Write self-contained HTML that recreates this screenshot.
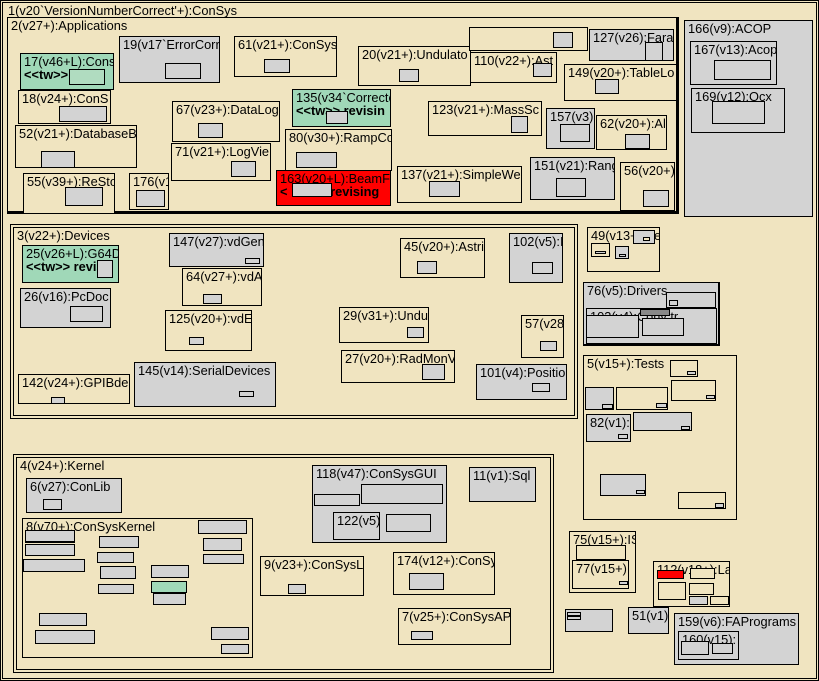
<!DOCTYPE html>
<html><head><meta charset="utf-8"><style>
body{margin:0;width:819px;height:681px;background:#f0e4c0;position:relative;overflow:hidden}
.b{position:absolute;border:1px solid #000;overflow:hidden;white-space:nowrap;box-sizing:border-box;font:12.8px "Liberation Sans",sans-serif;line-height:13px;padding:1px 0 0 3px;color:#000}
.g{background:#d3d3d3}.n{background:#f0e4c0}.t{background:#a0d8b8}.r{background:#f00}
.k{font-weight:bold}
</style></head><body>
<div class="b n" style="left:0;top:0;width:819px;height:681px"></div>
<div class="b n" style="left:2px;top:2px;width:815px;height:677px;padding-left:5px">1(v20`VersionNumberCorrect'+):ConSys</div>

<div class="b n" style="left:7px;top:17px;width:672px;height:197px;border-right-width:3px;border-bottom-width:3px">2(v27+):Applications</div>
<div class="b t" style="left:20px;top:53px;width:94px;height:37px">17(v46+L):Cons<br><span class="k">&lt;&lt;tw&gt;&gt; revisi</span></div>
<div class="b t" style="left:69px;top:69px;width:36px;height:16px;background:#b0dcc0"></div>
<div class="b g" style="left:119px;top:36px;width:101px;height:47px">19(v17`ErrorCorr</div>
<div class="b g" style="left:165px;top:63px;width:36px;height:16px"></div>
<div class="b n" style="left:234px;top:36px;width:103px;height:41px">61(v21+):ConSys</div>
<div class="b g" style="left:264px;top:59px;width:26px;height:14px"></div>
<div class="b n" style="left:358px;top:46px;width:113px;height:40px">20(v21+):Undulato</div>
<div class="b g" style="left:399px;top:69px;width:20px;height:13px"></div>
<div class="b n" style="left:18px;top:90px;width:93px;height:34px">18(v24+):ConS</div>
<div class="b g" style="left:59px;top:106px;width:48px;height:16px"></div>
<div class="b n" style="left:172px;top:101px;width:108px;height:41px">67(v23+):DataLog</div>
<div class="b g" style="left:198px;top:123px;width:25px;height:15px"></div>
<div class="b t" style="left:292px;top:89px;width:99px;height:38px">135(v34`Correcte<br><span class="k">&lt;&lt;tw&gt;&gt; revisin</span></div>
<div class="b g" style="left:326px;top:111px;width:22px;height:13px"></div>
<div class="b n" style="left:15px;top:125px;width:122px;height:43px">52(v21+):DatabaseB</div>
<div class="b g" style="left:41px;top:151px;width:34px;height:17px"></div>
<div class="b n" style="left:171px;top:143px;width:100px;height:38px">71(v21+):LogVie</div>
<div class="b g" style="left:231px;top:161px;width:25px;height:16px"></div>
<div class="b n" style="left:285px;top:129px;width:107px;height:42px">80(v30+):RampCo</div>
<div class="b g" style="left:296px;top:152px;width:41px;height:16px"></div>
<div class="b n" style="left:23px;top:173px;width:92px;height:41px">55(v39+):ReSto</div>
<div class="b g" style="left:65px;top:187px;width:38px;height:19px"></div>
<div class="b n" style="left:129px;top:173px;width:40px;height:37px">176(v1</div>
<div class="b g" style="left:136px;top:190px;width:29px;height:17px"></div>
<div class="b r" style="left:276px;top:170px;width:115px;height:36px">163(v20+L):BeamF<br><span class="k">&lt;&nbsp;&nbsp;&nbsp;&nbsp;&nbsp;&nbsp;&nbsp;&nbsp;&nbsp;&nbsp;&nbsp; revising</span></div>
<div class="b g" style="left:292px;top:183px;width:40px;height:14px"></div>
<div class="b n" style="left:397px;top:166px;width:125px;height:37px">137(v21+):SimpleWe</div>
<div class="b g" style="left:429px;top:181px;width:31px;height:16px"></div>
<div class="b n" style="left:469px;top:27px;width:119px;height:24px"></div>
<div class="b g" style="left:553px;top:32px;width:20px;height:16px"></div>
<div class="b g" style="left:589px;top:29px;width:85px;height:32px">127(v26):Fara</div>
<div class="b g" style="left:645px;top:42px;width:18px;height:19px"></div>
<div class="b n" style="left:470px;top:52px;width:87px;height:31px">110(v22+):Ast</div>
<div class="b g" style="left:533px;top:63px;width:19px;height:14px"></div>
<div class="b n" style="left:564px;top:64px;width:113px;height:37px">149(v20+):TableLo</div>
<div class="b g" style="left:595px;top:79px;width:24px;height:15px"></div>
<div class="b n" style="left:428px;top:101px;width:114px;height:35px">123(v21+):MassSc</div>
<div class="b g" style="left:511px;top:116px;width:17px;height:17px"></div>
<div class="b g" style="left:546px;top:108px;width:49px;height:41px">157(v3)</div>
<div class="b g" style="left:560px;top:124px;width:30px;height:18px"></div>
<div class="b n" style="left:596px;top:115px;width:71px;height:35px">62(v20+):Al</div>
<div class="b g" style="left:625px;top:134px;width:25px;height:15px"></div>
<div class="b g" style="left:530px;top:157px;width:85px;height:43px">151(v21):Rang</div>
<div class="b g" style="left:556px;top:178px;width:30px;height:19px"></div>
<div class="b n" style="left:620px;top:162px;width:55px;height:49px">56(v20+)</div>
<div class="b g" style="left:643px;top:190px;width:26px;height:17px"></div>

<div class="b g" style="left:684px;top:20px;width:129px;height:197px">166(v9):ACOP</div>
<div class="b g" style="left:690px;top:41px;width:87px;height:44px">167(v13):Acop</div>
<div class="b g" style="left:714px;top:60px;width:57px;height:20px"></div>
<div class="b g" style="left:691px;top:88px;width:94px;height:45px">169(v12):Ocx</div>
<div class="b g" style="left:712px;top:101px;width:53px;height:23px"></div>

<div class="b n" style="left:10px;top:224px;width:568px;height:195px"></div>
<div class="b n" style="left:13px;top:227px;width:562px;height:189px">3(v22+):Devices</div>
<div class="b t" style="left:22px;top:245px;width:97px;height:38px">25(v26+L):G64D<br><span class="k">&lt;&lt;tw&gt;&gt; revisi</span></div>
<div class="b g" style="left:97px;top:260px;width:16px;height:18px"></div>
<div class="b g" style="left:20px;top:288px;width:91px;height:40px">26(v16):PcDoc</div>
<div class="b g" style="left:70px;top:306px;width:33px;height:16px"></div>
<div class="b g" style="left:169px;top:233px;width:95px;height:34px">147(v27):vdGen</div>
<div class="b g" style="left:245px;top:258px;width:15px;height:6px"></div>
<div class="b n" style="left:182px;top:268px;width:80px;height:38px">64(v27+):vdA</div>
<div class="b g" style="left:203px;top:294px;width:19px;height:10px"></div>
<div class="b n" style="left:165px;top:310px;width:87px;height:41px">125(v20+):vdE</div>
<div class="b g" style="left:189px;top:337px;width:15px;height:8px"></div>
<div class="b g" style="left:134px;top:362px;width:142px;height:45px">145(v14):SerialDevices</div>
<div class="b g" style="left:239px;top:391px;width:15px;height:6px"></div>
<div class="b n" style="left:18px;top:374px;width:112px;height:30px">142(v24+):GPIBde</div>
<div class="b g" style="left:51px;top:397px;width:14px;height:7px"></div>
<div class="b n" style="left:400px;top:238px;width:85px;height:40px">45(v20+):Astri</div>
<div class="b g" style="left:417px;top:261px;width:20px;height:13px"></div>
<div class="b g" style="left:509px;top:233px;width:54px;height:50px">102(v5):I</div>
<div class="b g" style="left:532px;top:262px;width:21px;height:12px"></div>
<div class="b n" style="left:339px;top:307px;width:90px;height:36px">29(v31+):Undu</div>
<div class="b g" style="left:407px;top:327px;width:17px;height:11px"></div>
<div class="b n" style="left:341px;top:350px;width:114px;height:33px">27(v20+):RadMonV</div>
<div class="b g" style="left:422px;top:364px;width:23px;height:16px"></div>
<div class="b n" style="left:521px;top:315px;width:43px;height:43px">57(v28</div>
<div class="b g" style="left:540px;top:341px;width:17px;height:10px"></div>
<div class="b g" style="left:476px;top:364px;width:91px;height:36px">101(v4):Positio</div>
<div class="b g" style="left:532px;top:383px;width:18px;height:9px"></div>

<div class="b n" style="left:587px;top:227px;width:73px;height:45px">49(v13+):Se</div>
<div class="b g" style="left:633px;top:230px;width:22px;height:14px"></div>
<div class="b n" style="left:643px;top:237px;width:7px;height:4px"></div>
<div class="b n" style="left:591px;top:243px;width:19px;height:14px"></div>
<div class="b g" style="left:595px;top:251px;width:11px;height:3px"></div>
<div class="b g" style="left:615px;top:246px;width:14px;height:13px"></div>
<div class="b g" style="left:619px;top:254px;width:7px;height:3px"></div>

<div class="b g" style="left:583px;top:282px;width:137px;height:64px;border-width:1px 2px 2px 1px">76(v5):Drivers</div>
<div class="b g" style="left:666px;top:292px;width:50px;height:16px"></div>
<div class="b g" style="left:669px;top:300px;width:9px;height:6px"></div>
<div class="b g" style="left:586px;top:308px;width:131px;height:36px">103(v4):Conv tr</div>
<div class="b g" style="left:586px;top:315px;width:53px;height:23px"></div>
<div class="b g" style="left:642px;top:318px;width:42px;height:18px"></div>
<div class="b g" style="left:640px;top:309px;width:30px;height:7px;background:#888"></div>

<div class="b n" style="left:583px;top:355px;width:154px;height:165px">5(v15+):Tests</div>
<div class="b n" style="left:670px;top:360px;width:28px;height:17px"></div>
<div class="b g" style="left:687px;top:371px;width:9px;height:4px"></div>
<div class="b n" style="left:671px;top:380px;width:45px;height:21px"></div>
<div class="b g" style="left:706px;top:395px;width:9px;height:4px"></div>
<div class="b g" style="left:585px;top:387px;width:29px;height:23px"></div>
<div class="b g" style="left:602px;top:404px;width:11px;height:5px"></div>
<div class="b n" style="left:616px;top:387px;width:52px;height:23px"></div>
<div class="b g" style="left:656px;top:403px;width:11px;height:5px"></div>
<div class="b g" style="left:586px;top:414px;width:45px;height:28px">82(v1):</div>
<div class="b g" style="left:618px;top:434px;width:10px;height:5px"></div>
<div class="b g" style="left:633px;top:412px;width:59px;height:19px"></div>
<div class="b g" style="left:681px;top:426px;width:9px;height:4px"></div>
<div class="b g" style="left:600px;top:474px;width:46px;height:22px"></div>
<div class="b g" style="left:636px;top:490px;width:9px;height:4px"></div>
<div class="b n" style="left:678px;top:492px;width:48px;height:17px"></div>
<div class="b g" style="left:715px;top:503px;width:9px;height:5px"></div>

<div class="b n" style="left:13px;top:454px;width:541px;height:219px"></div>
<div class="b n" style="left:16px;top:457px;width:535px;height:213px">4(v24+):Kernel</div>
<div class="b g" style="left:26px;top:478px;width:96px;height:35px">6(v27):ConLib</div>
<div class="b g" style="left:43px;top:499px;width:19px;height:11px"></div>
<div class="b n" style="left:22px;top:518px;width:231px;height:140px">8(v70+):ConSysKernel</div>
<div class="b g" style="left:25px;top:530px;width:50px;height:13px;border-bottom-width:2px"></div>
<div class="b g" style="left:25px;top:544px;width:50px;height:12px"></div>
<div class="b g" style="left:23px;top:559px;width:62px;height:13px"></div>
<div class="b g" style="left:99px;top:536px;width:40px;height:12px"></div>
<div class="b g" style="left:97px;top:552px;width:37px;height:11px"></div>
<div class="b g" style="left:100px;top:566px;width:36px;height:13px"></div>
<div class="b g" style="left:98px;top:584px;width:36px;height:10px"></div>
<div class="b g" style="left:151px;top:565px;width:38px;height:13px"></div>
<div class="b t" style="left:151px;top:581px;width:36px;height:12px"></div>
<div class="b g" style="left:153px;top:593px;width:33px;height:12px"></div>
<div class="b g" style="left:198px;top:520px;width:49px;height:14px"></div>
<div class="b g" style="left:203px;top:538px;width:39px;height:13px"></div>
<div class="b g" style="left:203px;top:554px;width:41px;height:10px"></div>
<div class="b g" style="left:39px;top:613px;width:48px;height:13px"></div>
<div class="b g" style="left:35px;top:630px;width:60px;height:14px"></div>
<div class="b g" style="left:211px;top:627px;width:38px;height:13px"></div>
<div class="b g" style="left:221px;top:644px;width:28px;height:10px"></div>

<div class="b g" style="left:312px;top:465px;width:135px;height:78px">118(v47):ConSysGUI</div>
<div class="b g" style="left:314px;top:494px;width:46px;height:12px"></div>
<div class="b g" style="left:361px;top:484px;width:82px;height:20px"></div>
<div class="b g" style="left:333px;top:512px;width:47px;height:28px">122(v5)</div>
<div class="b g" style="left:386px;top:514px;width:45px;height:18px"></div>
<div class="b g" style="left:469px;top:467px;width:67px;height:35px">11(v1):Sql</div>
<div class="b n" style="left:260px;top:556px;width:104px;height:40px">9(v23+):ConSysL</div>
<div class="b g" style="left:288px;top:584px;width:18px;height:10px"></div>
<div class="b n" style="left:393px;top:552px;width:102px;height:43px">174(v12+):ConSy</div>
<div class="b g" style="left:409px;top:573px;width:35px;height:17px"></div>
<div class="b n" style="left:398px;top:608px;width:113px;height:37px">7(v25+):ConSysAP</div>
<div class="b g" style="left:411px;top:631px;width:22px;height:9px"></div>

<div class="b n" style="left:569px;top:531px;width:67px;height:62px">75(v15+):IS</div>
<div class="b n" style="left:576px;top:545px;width:50px;height:15px"></div>
<div class="b n" style="left:572px;top:560px;width:57px;height:29px">77(v15+)</div>
<div class="b g" style="left:619px;top:581px;width:9px;height:4px"></div>
<div class="b n" style="left:653px;top:561px;width:77px;height:46px">112(v18+):La</div>
<div class="b r" style="left:657px;top:570px;width:27px;height:9px"></div>
<div class="b n" style="left:690px;top:568px;width:25px;height:11px"></div>
<div class="b n" style="left:658px;top:582px;width:28px;height:18px"></div>
<div class="b n" style="left:689px;top:583px;width:25px;height:12px"></div>
<div class="b g" style="left:689px;top:596px;width:19px;height:9px"></div>
<div class="b n" style="left:710px;top:596px;width:19px;height:9px"></div>
<div class="b g" style="left:565px;top:609px;width:48px;height:23px"></div>
<div class="b g" style="left:567px;top:612px;width:14px;height:4px"></div>
<div class="b g" style="left:567px;top:616px;width:14px;height:4px"></div>
<div class="b g" style="left:628px;top:607px;width:41px;height:27px">51(v1)</div>
<div class="b g" style="left:674px;top:613px;width:125px;height:52px">159(v6):FAPrograms</div>
<div class="b g" style="left:678px;top:631px;width:61px;height:29px">160(v15):</div>
<div class="b g" style="left:681px;top:641px;width:28px;height:14px"></div>
<div class="b g" style="left:712px;top:643px;width:21px;height:11px"></div>
</body></html>
